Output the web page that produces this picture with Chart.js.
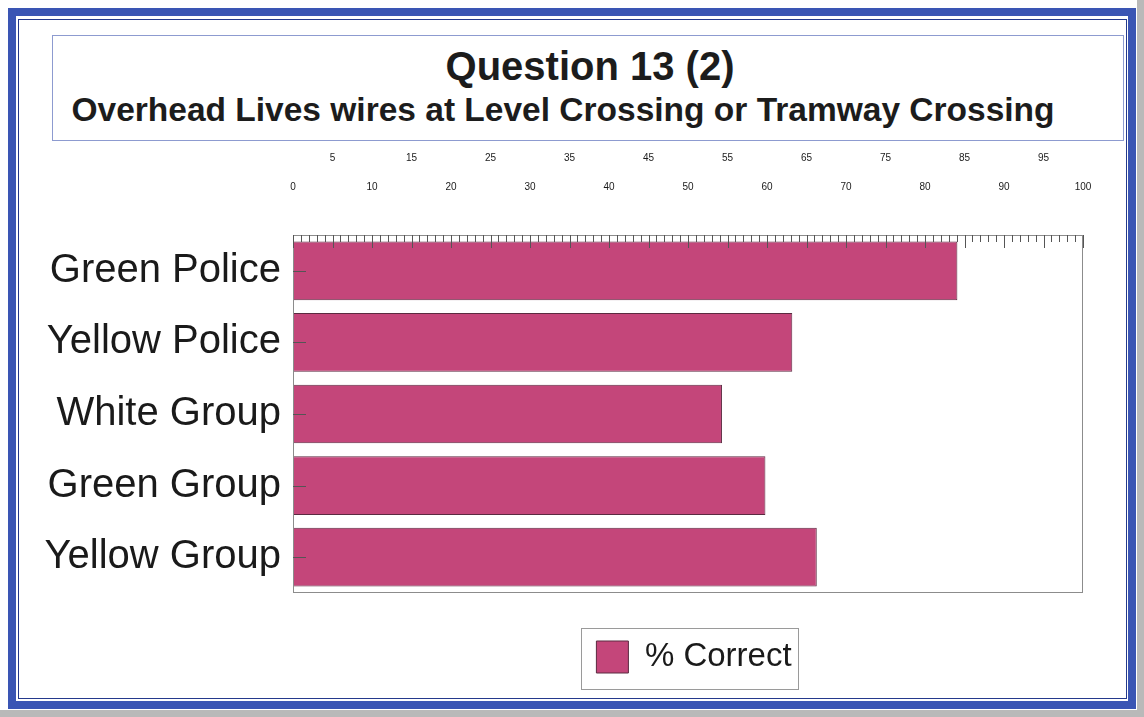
<!DOCTYPE html>
<html>
<head>
<meta charset="utf-8">
<script src="https://cdn.jsdelivr.net/npm/chart.js@4.4.0/dist/chart.umd.min.js"></script>
<style>
  html, body { margin: 0; padding: 0; }
  body { width: 1144px; height: 717px; position: relative; overflow: hidden; background: #fff;
         font-family: "Liberation Sans", Arial, sans-serif; }
  .edge-r { position: absolute; left: 1137px; top: 0; width: 7px; height: 717px; background: #b9b9b9; }
  .edge-b { position: absolute; left: 0; top: 710px; width: 1144px; height: 7px; background: #b9b9b9; }
  .frame { position: absolute; left: 8px; top: 8px; width: 1128px; height: 701px; box-sizing: border-box;
           border: 8px solid #3a55b4; }
  .inner { position: absolute; left: 18px; top: 19px; width: 1109px; height: 680px; box-sizing: border-box;
           border: 1.5px solid #24398c; }
  .titlebox { position: absolute; left: 52px; top: 35px; width: 1072px; height: 106px; box-sizing: border-box;
              border: 1px solid #8d9bd0; }
  .t1 { position: absolute; left: 0; width: 1180px; top: 46px; text-align: center;
        font: bold 40px/40px "Liberation Sans", Arial, sans-serif; color: #1c1c1c; }
  .t2 { position: absolute; left: 0; width: 1126px; top: 93px; text-align: center;
        font: bold 33.5px/34px "Liberation Sans", Arial, sans-serif; color: #1c1c1c; }
  canvas { position: absolute; left: 0; top: 0; }
</style>
</head>
<body>
<div class="edge-r"></div>
<div class="edge-b"></div>
<div class="frame"></div>
<div class="inner"></div>
<div class="titlebox"></div>
<div class="t1">Question 13 (2)</div>
<div class="t2">Overhead Lives wires at Level Crossing or Tramway Crossing</div>
<canvas id="chart" width="1144" height="717"></canvas>
<script>
const categories = ['Green Police', 'Yellow Police', 'White Group', 'Green Group', 'Yellow Group'];
const percentCorrect = [84.1, 63.2, 54.3, 59.8, 66.3];
const seriesLabel = '% Correct';
const xTickValues = [0, 5, 10, 15, 20, 25, 30, 35, 40, 45, 50, 55, 60, 65, 70, 75, 80, 85, 90, 95, 100];

const barColor = '#c4467a';
const barBorder = '#5b2a40';

// plot frame, ruler ticks along the top, small ticks at the left, box round the legend
const plotFrame = {
    id: 'plotFrame',
    afterLayout(chart) {
        const legend = chart.legend;
        const area = chart.chartArea;
        legend.left = area.left + 12;
        legend.right = area.right;
        legend.width = legend.right - legend.left;
    },
    afterDatasetsDraw(chart) {
        const { ctx, chartArea: a, scales: { x, y } } = chart;
        ctx.save();
        ctx.strokeStyle = '#8c8c8c';
        ctx.lineWidth = 1;
        ctx.strokeRect(a.left + 0.5, a.top + 0.5, a.right - a.left - 1, a.bottom - a.top - 1);

        ctx.strokeStyle = '#555';
        ctx.beginPath();
        for (let v = x.min; v <= x.max; v++) {
            const px = Math.round(x.getPixelForValue(v)) + 0.5;
            ctx.moveTo(px, a.top);
            ctx.lineTo(px, a.top + (v % 5 === 0 ? 13 : 7));
        }
        categories.forEach((c, i) => {
            const py = Math.round(y.getPixelForTick(i)) + 0.5;
            ctx.moveTo(a.left, py);
            ctx.lineTo(a.left + 13, py);
        });
        ctx.stroke();
        ctx.restore();
    },
    afterDraw(chart) {
        const hb = chart.legend.legendHitBoxes[0];
        if (!hb) return;
        const ctx = chart.ctx;
        ctx.save();
        ctx.strokeStyle = '#9a9a9a';
        ctx.lineWidth = 1;
        ctx.strokeRect(Math.round(hb.left - 15) + 0.5, Math.round(hb.top - 12.5) + 0.5, Math.round(hb.width + 22), 61);
        ctx.restore();
    }
};

const ctx = document.getElementById('chart').getContext('2d');
const chart = new Chart(ctx, {
    type: 'bar',
    data: {
        labels: categories,
        datasets: [{
            label: seriesLabel,
            data: percentCorrect,
            backgroundColor: barColor,
            borderColor: barBorder,
            borderWidth: 1,
            barPercentage: 0.82,
            categoryPercentage: 1
        }]
    },
    options: {
        indexAxis: 'y',
        responsive: false,
        animation: false,
        layout: {
            padding: { left: 20, right: 61, top: 0, bottom: 33.5 }
        },
        scales: {
            x: {
                type: 'linear',
                position: 'top',
                min: 0,
                max: 100,
                grid: { display: false },
                border: { display: false },
                afterBuildTicks: scale => {
                    scale.ticks = xTickValues.map(v => ({ value: v }));
                },
                afterFit: scale => {
                    scale.height = 235;
                },
                ticks: {
                    autoSkip: false,
                    maxRotation: 0,
                    padding: 25.5,
                    color: '#1a1a1a',
                    font: { family: '"Liberation Sans", Arial, sans-serif', size: 10, lineHeight: 2.9 },
                    // odd multiples of 5 sit on the upper row, even ones on the lower row
                    callback: value => (value / 5) % 2 === 1 ? [String(value), ''] : ['', String(value)]
                }
            },
            y: {
                grid: { display: false },
                border: { display: false },
                afterFit: scale => {
                    scale.width = 273;
                },
                ticks: {
                    padding: 4,
                    color: '#1a1a1a',
                    font: { family: '"Liberation Sans", Arial, sans-serif', size: 40 }
                }
            }
        },
        plugins: {
            tooltip: { enabled: false },
            legend: {
                position: 'bottom',
                labels: {
                    boxWidth: 32,
                    boxHeight: 32,
                    padding: 10,
                    color: '#1a1a1a',
                    font: { family: '"Liberation Sans", Arial, sans-serif', size: 33 }
                },
                title: {
                    display: true,
                    text: '',
                    font: { size: 10, lineHeight: 1 },
                    padding: { top: 27.5, bottom: 0 }
                }
            }
        }
    },
    plugins: [plotFrame]
});
</script>
</body>
</html>
